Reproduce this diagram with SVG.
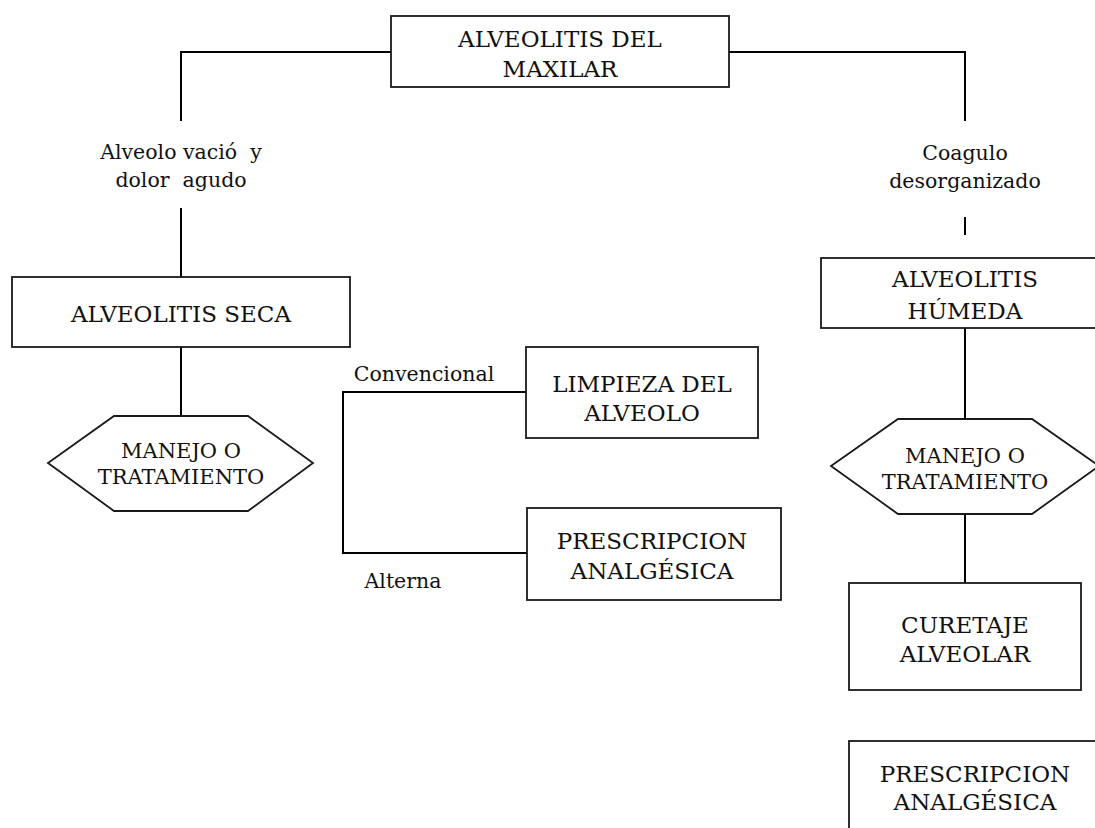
<svg xmlns="http://www.w3.org/2000/svg" width="1095" height="828" viewBox="0 0 1095 828">
  <style>
    .box { fill: #ffffff; stroke: #1a1a1a; stroke-width: 1.8; }
    .link { fill: none; stroke: #000000; stroke-width: 2; }
    .t { font-family: "DejaVu Serif", "Liberation Serif", "Times New Roman", serif; fill: #111111; text-anchor: middle; }
    .bt { font-size: 23px; }
    .ht { font-size: 21px; }
    .lt { font-size: 20.5px; }
  </style>
  <rect width="1095" height="828" fill="#ffffff"/>

  <!-- connectors -->
  <g id="connectors">
    <polyline class="link" points="391,52 181,52 181,121"/>
    <line class="link" x1="181" y1="208" x2="181" y2="277"/>
    <line class="link" x1="181" y1="347" x2="181" y2="416"/>
    <polyline class="link" points="729,52 965,52 965,121"/>
    <line class="link" x1="965" y1="217" x2="965" y2="235"/>
    <line class="link" x1="965" y1="328" x2="965" y2="419"/>
    <line class="link" x1="965" y1="514" x2="965" y2="583"/>
    <polyline class="link" points="526,392 343,392 343,553 527,553"/>
  </g>

  <!-- root -->
  <g id="node-root">
    <rect class="box" x="391" y="16" width="338" height="71"/>
    <text class="t bt" x="560" y="47">ALVEOLITIS DEL</text>
    <text class="t bt" x="560" y="77">MAXILAR</text>
  </g>

  <!-- branch labels -->
  <g id="label-seca">
    <text class="t lt" x="181" y="159" xml:space="preserve">Alveolo vació  y</text>
    <text class="t lt" x="181" y="187" xml:space="preserve">dolor  agudo</text>
  </g>
  <g id="label-humeda">
    <text class="t lt" x="965" y="160">Coagulo</text>
    <text class="t lt" x="965" y="188">desorganizado</text>
  </g>

  <!-- left branch -->
  <g id="node-seca">
    <rect class="box" x="12" y="277" width="338" height="70"/>
    <text class="t bt" x="181" y="322">ALVEOLITIS SECA</text>
  </g>
  <g id="node-manejo-seca">
    <polygon class="box" points="48,463 114,416 248,416 313,463 248,511 114,511"/>
    <text class="t ht" x="181" y="458">MANEJO O</text>
    <text class="t ht" x="181" y="484">TRATAMIENTO</text>
  </g>

  <!-- treatment options -->
  <g id="label-convencional">
    <text class="t lt" x="424" y="381">Convencional</text>
  </g>
  <g id="label-alterna">
    <text class="t lt" x="403" y="588">Alterna</text>
  </g>
  <g id="node-limpieza">
    <rect class="box" x="526" y="347" width="232" height="91"/>
    <text class="t bt" x="642" y="392">LIMPIEZA DEL</text>
    <text class="t bt" x="642" y="421">ALVEOLO</text>
  </g>
  <g id="node-prescripcion-1">
    <rect class="box" x="527" y="508" width="254" height="92"/>
    <text class="t bt" x="652" y="549">PRESCRIPCION</text>
    <text class="t bt" x="652" y="579">ANALGÉSICA</text>
  </g>

  <!-- right branch -->
  <g id="node-humeda">
    <rect class="box" x="821" y="258" width="290" height="70"/>
    <text class="t bt" x="965" y="287">ALVEOLITIS</text>
    <text class="t bt" x="965" y="319">HÚMEDA</text>
  </g>
  <g id="node-manejo-humeda">
    <polygon class="box" points="831,466 898,419 1032,419 1099,466 1032,514 898,514"/>
    <text class="t ht" x="965" y="463">MANEJO O</text>
    <text class="t ht" x="965" y="489">TRATAMIENTO</text>
  </g>
  <g id="node-curetaje">
    <rect class="box" x="849" y="583" width="232" height="107"/>
    <text class="t bt" x="965" y="633">CURETAJE</text>
    <text class="t bt" x="965" y="662">ALVEOLAR</text>
  </g>
  <g id="node-prescripcion-2">
    <rect class="box" x="849" y="741" width="252" height="110"/>
    <text class="t bt" x="975" y="782">PRESCRIPCION</text>
    <text class="t bt" x="975" y="810">ANALGÉSICA</text>
  </g>
</svg>
